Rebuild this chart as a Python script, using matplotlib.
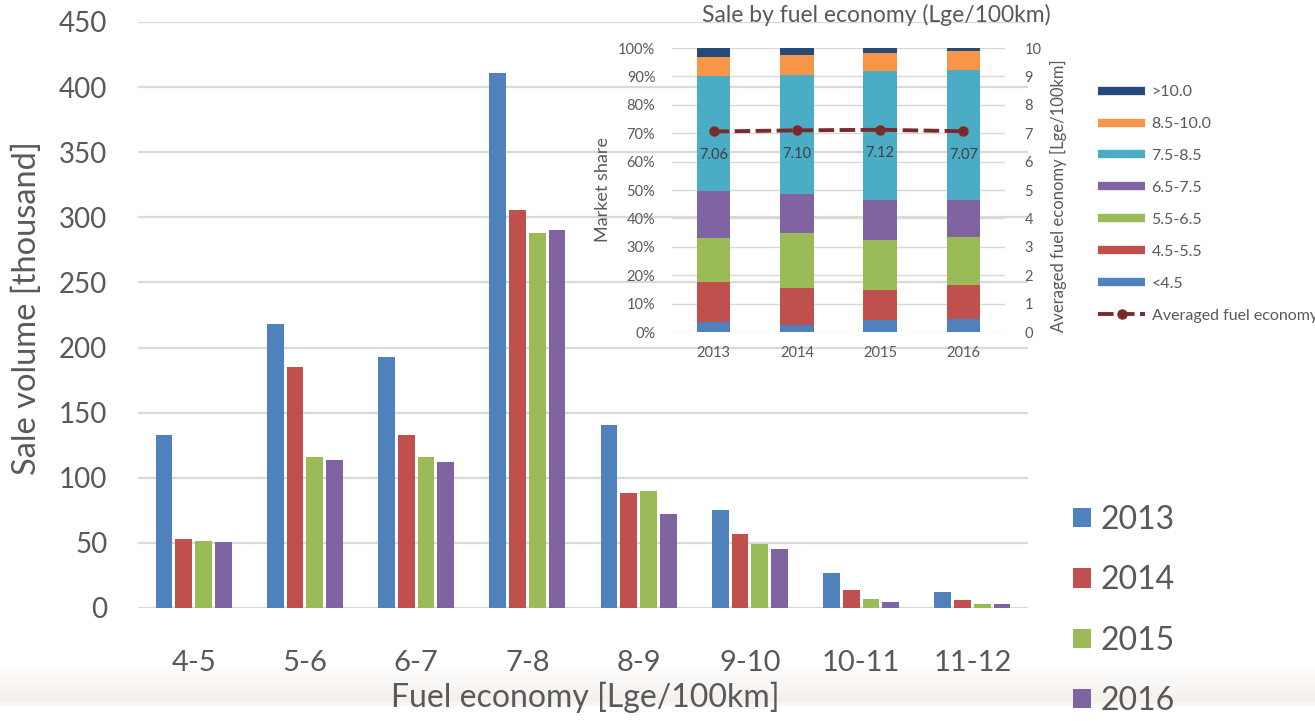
import numpy as np
import matplotlib
matplotlib.use("Agg")
import matplotlib.pyplot as plt
from matplotlib.patches import Patch
from matplotlib.lines import Line2D

plt.rcParams['font.family'] = ['Lato', 'DejaVu Sans']

# ---------------- data ----------------
categories = ["4-5", "5-6", "6-7", "7-8", "8-9", "9-10", "10-11", "11-12"]
years = ["2013", "2014", "2015", "2016"]
sales_2013 = [133, 218, 193, 411, 140.5, 75, 26.7, 12]
sales_2014 = [53, 185, 133, 306, 88.5, 57, 13.6, 5.9]
sales_2015 = [51.5, 116, 116, 287.7, 89.5, 49.5, 7.2, 3.3]
sales_2016 = [50.5, 113.6, 112, 290.5, 72.5, 45, 4.4, 3.2]
sales = [sales_2013, sales_2014, sales_2015, sales_2016]

share_bins = ["<4.5", "4.5-5.5", "5.5-6.5", "6.5-7.5", "7.5-8.5", "8.5-10.0", ">10.0"]
share_lt45 = [3.4, 2.6, 4.3, 4.7]
share_45_55 = [14.1, 12.9, 10.6, 12.0]
share_55_65 = [15.6, 19.4, 17.6, 16.8]
share_65_75 = [16.4, 13.8, 13.9, 13.1]
share_75_85 = [40.8, 41.8, 45.4, 45.8]
share_85_10 = [6.4, 7.2, 6.4, 6.4]
share_gt10 = [3.3, 2.3, 1.8, 1.2]
shares = [share_lt45, share_45_55, share_55_65, share_65_75, share_75_85, share_85_10, share_gt10]
avg_fuel = [7.06, 7.10, 7.12, 7.07]
avg_labels = ["7.06", "7.10", "7.12", "7.07"]

year_colors = ["#4f81bd", "#c0504d", "#9bbb59", "#8064a2"]
bin_colors = ["#4f81bd", "#c0504d", "#9bbb59", "#8064a2", "#4bacc6", "#f79646", "#264a78"]
line_color = "#7b2a2a"
txt = "#595959"
grid = "#d9d9d9"

W, H = 1315, 721
fig = plt.figure(figsize=(W / 100, H / 100), dpi=100)

def fx(px):
    return px / W

def fy(py):
    return (H - py) / H

# background band at bottom
bg = fig.add_axes([0, 0, 1, 1], zorder=-10)
bg.set_axis_off()
alpha = np.zeros(H)
for r in range(H):
    if 662 <= r < 700:
        alpha[r] = (r - 662) / 38.0
    elif 700 <= r < 708:
        alpha[r] = 1.0 - (r - 700) / 8.0
img = np.zeros((H, 1, 4))
img[:, 0, 0] = 0.955
img[:, 0, 1] = 0.94
img[:, 0, 2] = 0.92
img[:, 0, 3] = alpha * 0.9
bg.imshow(img, aspect='auto', extent=(0, 1, 0, 1), origin='upper')
bg.set_xlim(0, 1); bg.set_ylim(0, 1)

# ---------------- main chart ----------------
ax = fig.add_axes([fx(138), fy(608), fx(1028) - fx(138), fy(22) - fy(608)])
ax.patch.set_alpha(0)
x = np.arange(len(categories))
bw = 0.15
step = 0.177
for i, (yr, vals) in enumerate(zip(years, sales)):
    ax.bar(x + (i - 1.5) * step, vals, width=bw, color=year_colors[i], zorder=3, label=yr)
ax.set_xlim(-0.5, 7.5)
ax.set_ylim(0, 450)
ax.set_yticks(np.arange(0, 451, 50))
ax.yaxis.grid(True, color=grid, linewidth=1.6, zorder=0)
ax.set_axisbelow(True)
for s in ax.spines.values():
    s.set_visible(False)
ax.set_xticks(x)
ax.set_xticklabels(categories)
ax.tick_params(axis='both', length=0, colors=txt)
ax.tick_params(axis='y', labelsize=20, pad=22)
ax.tick_params(axis='x', labelsize=21, pad=30)
fig.text(fx(27), fy(308), "Sale volume [thousand]", rotation=90, ha='center', va='center',
         fontsize=23.5, color=txt)
fig.text(fx(585), fy(697), "Fuel economy [Lge/100km]", ha='center', va='center',
         fontsize=23, color=txt)

handles = [Patch(facecolor=c, edgecolor='none') for c in year_colors]
leg = fig.legend(handles, years, loc='upper left', bbox_to_anchor=(fx(1073), fy(505)),
                 frameon=False, fontsize=23, labelspacing=0.95, handlelength=0.55,
                 handleheight=0.55, handletextpad=0.3, borderpad=0, borderaxespad=0)
for t in leg.get_texts():
    t.set_color(txt)

# ---------------- inset ----------------
ax2 = fig.add_axes([fx(672), fy(332), fx(1005) - fx(672), fy(48) - fy(332)])
ax2.patch.set_alpha(0)
xi = np.arange(len(years))
bottom = np.zeros(len(years))
for j, (name, vals) in enumerate(zip(share_bins, shares)):
    ax2.bar(xi, vals, bottom=bottom, width=0.4, color=bin_colors[j], zorder=3, label=name)
    bottom += np.array(vals)
ax2.set_xlim(-0.5, 3.5)
ax2.set_ylim(0, 100)
ax2.set_yticks(np.arange(0, 101, 10))
ax2.set_yticklabels([f"{v}%" for v in range(0, 101, 10)])
ax2.yaxis.grid(True, color=grid, linewidth=1.0, zorder=0)
ax2.set_axisbelow(True)
for s in ax2.spines.values():
    s.set_visible(False)
ax2.set_xticks(xi)
ax2.set_xticklabels(years)
ax2.tick_params(axis='both', length=0, colors=txt, labelsize=10.5)
ax2.tick_params(axis='y', pad=12)
ax2.tick_params(axis='x', pad=10)
fig.text(fx(603), fy(190), "Market share", rotation=90, ha='center', va='center',
         fontsize=13, color=txt)

ax3 = ax2.twinx()
ax3.set_ylim(0, 10)
ax3.set_yticks(np.arange(0, 11, 1))
for s in ax3.spines.values():
    s.set_visible(False)
ax3.tick_params(axis='y', length=0, colors=txt, labelsize=10.5, pad=14)
dash = (0, (4, 1.4))
ax3.plot(xi, avg_fuel, color=line_color, linewidth=2.8, linestyle=dash,
         marker='o', markersize=6.5, zorder=5)
for xx, yy, lab in zip(xi, avg_fuel, avg_labels):
    ax3.annotate(lab, (xx, yy), xytext=(0, -17), textcoords='offset points',
                 ha='center', va='center', fontsize=10.5, color="#404040")
fig.text(fx(1058), fy(196), "Averaged fuel economy [Lge/100km]", rotation=90,
         ha='center', va='center', fontsize=12, color=txt)
fig.text(fx(876), fy(15), "Sale by fuel economy (Lge/100km)", ha='center', va='center',
         fontsize=16.5, color=txt)

h2 = [Line2D([0], [0], color=c, linewidth=6, solid_capstyle='butt') for c in bin_colors[::-1]]
h2.append(Line2D([0], [0], color=line_color, linewidth=2.8, linestyle=dash,
                 marker='o', markersize=6.5))
labs2 = share_bins[::-1] + ["Averaged fuel economy"]
leg2 = fig.legend(h2, labs2, loc='upper left', bbox_to_anchor=(fx(1098), fy(85)),
                  frameon=False, fontsize=11.5, labelspacing=1.11, handlelength=2.95,
                  handletextpad=0.4, borderpad=0, borderaxespad=0)
for t in leg2.get_texts():
    t.set_color(txt)

fig.savefig("out.png", dpi=100)
